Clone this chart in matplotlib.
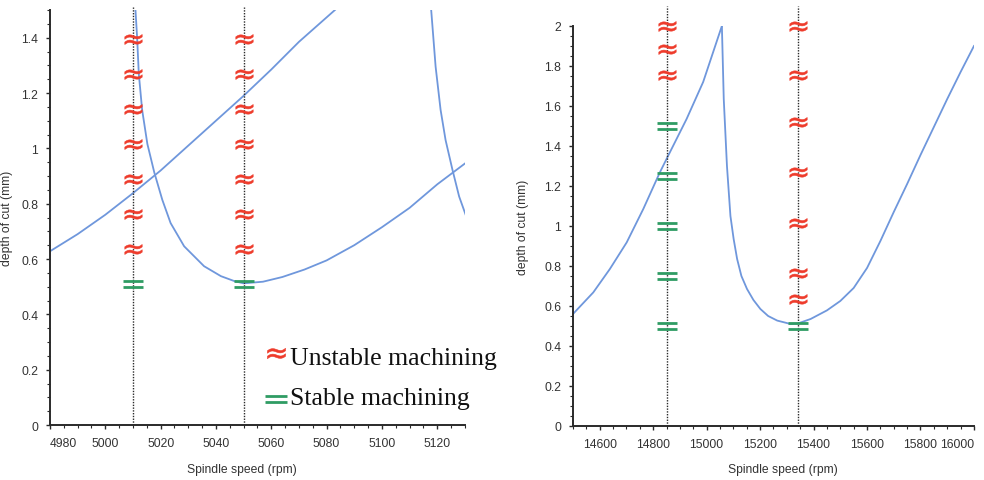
import matplotlib
matplotlib.use("Agg")
import matplotlib.pyplot as plt
from matplotlib.path import Path
from matplotlib.lines import Line2D
from matplotlib.ticker import MultipleLocator, FuncFormatter

# ---- left chart, around 5000 rpm ----
left_test_speeds = [5010, 5050]
left_unstable_depths = [0.635, 0.762, 0.889, 1.016, 1.143, 1.27, 1.397]
left_stable_depths = [0.508]

# lobe coming in from the left
lobe_a_rpm = [4980, 4990, 5000, 5010, 5020, 5030, 5040, 5050, 5060, 5070, 5083]
lobe_a_depth = [0.628, 0.69, 0.76, 0.838, 0.92, 1.01, 1.10, 1.19, 1.285, 1.385, 1.5]

# main lobe with its minimum near 5050 rpm
lobe_b_rpm = [5010.9, 5011.5, 5012.1, 5013.3, 5015.2, 5017.7, 5020.6, 5023.6, 5028.5,
              5035.7, 5041.8, 5046.7, 5050, 5057, 5064, 5072, 5080, 5090, 5100, 5110,
              5120, 5130.9]
lobe_b_depth = [1.5, 1.4, 1.27, 1.14, 1.016, 0.913, 0.814, 0.73, 0.646,
                0.574, 0.538, 0.52, 0.512, 0.518, 0.535, 0.562, 0.595, 0.65, 0.715,
                0.785, 0.87, 0.952]

# next lobe on the right
lobe_c_rpm = [5117.8, 5119.4, 5121.2, 5123.0, 5125.5, 5127.9, 5130.9]
lobe_c_depth = [1.5, 1.295, 1.139, 1.03, 0.922, 0.826, 0.742]

# ---- right chart, around 15000 rpm ----
right_test_speeds = [14850, 15340]
unstable_14850 = [1.755, 1.885, 2.0]
stable_14850 = [0.5, 0.75, 1.0, 1.25, 1.5]
unstable_15340 = [0.635, 0.765, 1.015, 1.27, 1.52, 1.755, 2.0]
stable_15340 = [0.5]

lobe_1_rpm = [14500, 14576, 14638, 14701, 14763, 14825, 14850, 14925, 14987, 15057]
lobe_1_depth = [0.56, 0.668, 0.785, 0.918, 1.085, 1.268, 1.335, 1.535, 1.72, 2.0]

lobe_2_rpm = [15057, 15064, 15076, 15089, 15101, 15114, 15130, 15151, 15175, 15201, 15230,
              15264, 15314, 15340, 15389, 15450, 15500, 15550, 15600, 15650, 15700, 15750,
              15800, 15850, 15900, 15950, 16000]
lobe_2_depth = [2.0, 1.635, 1.30, 1.05, 0.935, 0.835, 0.75, 0.685, 0.63, 0.585, 0.55,
                0.527, 0.51, 0.512, 0.535, 0.578, 0.625, 0.69, 0.79, 0.925, 1.07, 1.21,
                1.355, 1.495, 1.635, 1.77, 1.9]

legend_labels = ["Unstable machining", "Stable machining"]

BLUE = "#6f97dc"
RED = "#ee3b2b"
GREEN = "#2f9c63"
INK = "#2a2a2a"

# "=" marker: two short horizontal bars
EQUAL_MARK = Path([(-1, 0.28), (1, 0.28), (-1, -0.28), (1, -0.28)],
                  [Path.MOVETO, Path.LINETO, Path.MOVETO, Path.LINETO])
APPROX_MARK = r"$\approx$"

plt.rcParams["font.family"] = ["Liberation Sans", "DejaVu Sans"]


def style_axes(ax, xminor, ystep, xticks, ylim):
    '''Axes look of the stability software: only left and bottom spines'''
    for side in ["top", "right"]:
        ax.spines[side].set_visible(False)
    for side in ["left", "bottom"]:
        ax.spines[side].set_linewidth(1.4)
        ax.spines[side].set_color(INK)
    ax.set_xticks(xticks)
    ax.yaxis.set_major_locator(MultipleLocator(ystep))
    ax.yaxis.set_minor_locator(MultipleLocator(0.05))
    ax.xaxis.set_minor_locator(MultipleLocator(xminor))
    ax.set_ylim(ylim)
    ax.yaxis.set_major_formatter(FuncFormatter(lambda v, p: "%g" % round(v, 2)))
    ax.tick_params(which="major", direction="out", length=3, width=1, color=INK,
                   labelsize=8.7, labelcolor="#333333", pad=5.5)
    ax.tick_params(which="minor", direction="out", length=2, width=0.8, color=INK)
    ax.set_xlabel("Spindle speed (rpm)", fontsize=8.7, color="#333333")
    ax.set_ylabel("depth of cut (mm)", fontsize=8.7, color="#333333")


def draw_test(ax, speed, unstable, stable, top):
    '''Dotted test line with the unstable / stable cut markers on it'''
    ax.plot([speed, speed], [0, top], color=INK, lw=1, ls=(0, (1, 1)), clip_on=False)
    ax.plot([speed] * len(unstable), unstable, ls="none", marker=APPROX_MARK,
            markersize=12.5, color=RED, mec=RED, mew=0.4, clip_on=False)
    ax.plot([speed] * len(stable), stable, ls="none", marker=EQUAL_MARK,
            markersize=15, mec=GREEN, mew=2, clip_on=False)


fig = plt.figure(figsize=(9.84, 4.81), dpi=100)

# left chart
ax1 = fig.add_axes([0.0508, 0.1143, 0.4217, 0.8628])
ax1.set_xlim(4980, 5130)
for rpm, depth in [(lobe_a_rpm, lobe_a_depth), (lobe_b_rpm, lobe_b_depth),
                   (lobe_c_rpm, lobe_c_depth)]:
    ax1.plot(rpm, depth, color=BLUE, lw=1.3)
for speed in left_test_speeds:
    draw_test(ax1, speed, left_unstable_depths, left_stable_depths, 1.51)
style_axes(ax1, 5, 0.2, list(range(4980, 5121, 20)), (0, 1.5))
ax1.get_xticklabels()[0].set_horizontalalignment("left")
ax1.xaxis.set_label_coords(0.463, -0.092)
ax1.yaxis.set_label_coords(-0.088, 0.5)

# right chart
ax2 = fig.add_axes([0.5823, 0.1123, 0.4075, 0.8316])
ax2.set_xlim(14500, 16000)
ax2.plot(lobe_1_rpm, lobe_1_depth, color=BLUE, lw=1.3)
ax2.plot(lobe_2_rpm, lobe_2_depth, color=BLUE, lw=1.3)
draw_test(ax2, right_test_speeds[0], unstable_14850, stable_14850, 2.1)
draw_test(ax2, right_test_speeds[1], unstable_15340, stable_15340, 2.1)
style_axes(ax2, 50, 0.2, list(range(14600, 16001, 200)), (0, 2.0))
ax2.get_xticklabels()[-1].set_horizontalalignment("right")
ax2.xaxis.set_label_coords(0.524, -0.0925)
ax2.yaxis.set_label_coords(-0.11, 0.5)

# hand placed legend between the two charts
fig.add_artist(Line2D([0.2805], [1 - 354 / 481], transform=fig.transFigure, ls="none",
                      marker=APPROX_MARK, markersize=13, color=RED, mec=RED, mew=0.4))
fig.add_artist(Line2D([0.2805], [1 - 400 / 481], transform=fig.transFigure, ls="none",
                      marker=EQUAL_MARK, markersize=16, mec=GREEN, mew=2))
fig.text(0.2947, 1 - 365 / 481, legend_labels[0], fontsize=18.5,
         family="Liberation Serif", va="baseline", color="#111111")
fig.text(0.2947, 1 - 405 / 481, legend_labels[1], fontsize=18.5,
         family="Liberation Serif", va="baseline", color="#111111")

fig.savefig("out.png", dpi=100)
